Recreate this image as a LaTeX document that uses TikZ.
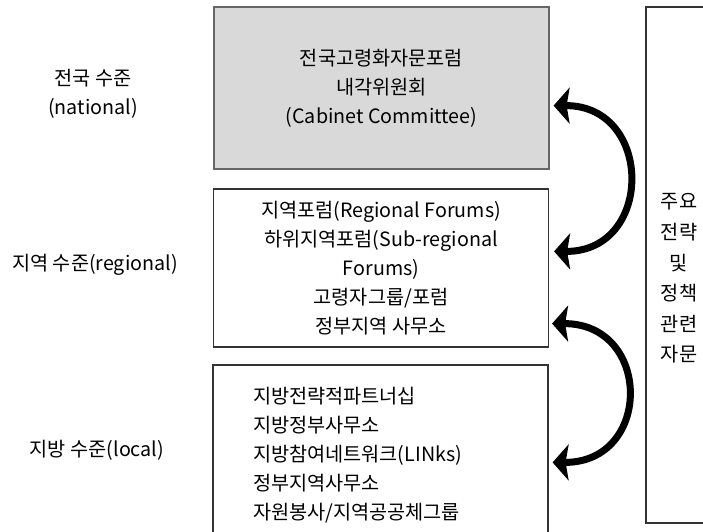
\documentclass[tikz,border=0pt]{standalone}
\usepackage{fontspec}
\setmainfont{Noto Sans CJK KR}
\usetikzlibrary{arrows.meta,positioning}

\begin{document}
\begin{tikzpicture}[x=1pt,y=1pt,
  lvl/.style={align=center,font=\fontsize{19.7}{29}\selectfont},
  box/.style={draw=black!80,line width=1.2pt,minimum width=335,inner sep=0pt,align=center,font=\fontsize{19.7}{29}\selectfont},
  twoway/.style={line width=7pt,{Stealth[length=16pt,width=36pt,inset=3pt]}-{Stealth[length=16pt,width=36pt,inset=3pt]}}
]
\useasboundingbox (0,0) rectangle (703,-531);

% Levels
\node[lvl] (lnat) at (93,-93.5) {전국 수준\\(national)};
\node[lvl] (lreg) at (95,-265) {지역 수준(regional)};
\node[lvl] (lloc) at (97,-450) {지방 수준(local)};

% Boxes
\node[box,fill=gray!30,draw=black!60,minimum height=162] (nat) at (381.5,-88) {전국고령화자문포럼\\내각위원회\\(Cabinet Committee)};
\node[box,minimum height=158] (reg) at (381,-268) {지역포럼(Regional Forums)\\하위지역포럼(Sub-regional\\Forums)\\고령자그룹/포럼\\정부지역 사무소};
\node[box,minimum height=181,text width=255,inner xsep=39,align=left] (loc) at (380.5,-455.5) {지방전략적파트너십\\지방정부사무소\\지방참여네트워크(LINks)\\정부지역사무소\\자원봉사/지역공공체그룹};
\node[draw=black!80,line width=1.2pt,minimum width=66,minimum height=516] (adv) at (679,-265) {};
\node[lvl,font=\fontsize{19.7}{30.6}\selectfont] (advtxt) at (679,-278.5) {주요\\전략\\및\\정책\\관련\\자문};

% Arrows
\draw[twoway] ([shift={(4,64)}]nat.south east) .. controls +(100,0) and +(100,0) .. ([shift={(5,-63)}]reg.north east);
\draw[twoway] ([shift={(3,24)}]reg.south east) .. controls +(100,0) and +(100,0) .. ([shift={(4,-98)}]loc.north east);

\end{tikzpicture}
\end{document}
